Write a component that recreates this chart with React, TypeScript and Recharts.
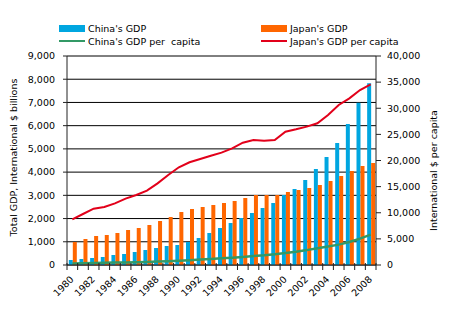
import React from 'react';
import { ComposedChart, Bar, Line, XAxis, YAxis, CartesianGrid, Label } from 'recharts';

const years = [
  '1980', '1981', '1982', '1983', '1984', '1985', '1986', '1987', '1988', '1989',
  '1990', '1991', '1992', '1993', '1994', '1995', '1996', '1997', '1998', '1999',
  '2000', '2001', '2002', '2003', '2004', '2005', '2006', '2007', '2008',
];

// billions of international $
const chinaGdp = [
  215, 258, 301, 344, 431, 474, 560, 646, 732, 818,
  861, 990, 1163, 1378, 1593, 1808, 2024, 2239, 2454, 2670,
  3014, 3272, 3660, 4134, 4650, 5253, 6072, 6990, 7823,
];
const japanGdp = [
  990, 1120, 1249, 1292, 1378, 1507, 1593, 1722, 1894, 2067,
  2282, 2411, 2497, 2583, 2670, 2756, 2885, 3014, 3014, 3014,
  3143, 3230, 3316, 3445, 3617, 3832, 4048, 4263, 4392,
];

// international $ per capita
const chinaPerCapita = [
  300, 330, 370, 410, 460, 500, 540, 590, 650, 720,
  830, 920, 1040, 1170, 1290, 1400, 1550, 1700, 1850, 2050,
  2300, 2550, 2850, 3200, 3550, 3900, 4400, 5050, 5800,
];
const japanPerCapita = [
  8746, 9761, 10776, 11101, 11800, 12700, 13400, 14230, 15630, 17230,
  18700, 19660, 20290, 20920, 21500, 22330, 23410, 23920, 23800, 23920,
  25520, 25970, 26480, 27120, 28710, 30620, 31900, 33490, 34580,
];

const gdpTicks = [0, 1000, 2000, 3000, 4000, 5000, 6000, 7000, 8000, 9000];
const perCapitaTicks = [0, 5000, 10000, 15000, 20000, 25000, 30000, 35000, 40000];

const data = years.map((year, i) => ({
  year,
  chinaGdp: chinaGdp[i],
  japanGdp: japanGdp[i],
  chinaPerCapita: chinaPerCapita[i],
  japanPerCapita: japanPerCapita[i],
}));

const W = 451;
const H = 323;
const LEFT = 67;
const RIGHT = 75;
const FONT = '"DejaVu Sans", Verdana, sans-serif';

const BLUE = '#00a6e0';
const ORANGE = '#ff6600';
const GREEN = '#339966';
const RED = '#e2001a';
const AXIS = '#222';

const legendItems = [
  { label: "China's GDP", color: BLUE, kind: 'bar', left: 59, top: 22 },
  { label: "Japan's GDP", color: ORANGE, kind: 'bar', left: 261, top: 22 },
  { label: "China's GDP per  capita", color: GREEN, kind: 'line', left: 59, top: 35 },
  { label: "Japan's GDP per capita", color: RED, kind: 'line', left: 261, top: 35 },
];

const fmt = (v: number) => v.toLocaleString('en-US');

const band = (W - LEFT - RIGHT) / years.length;

const YearTick = (props: any) => {
  const { x, y, payload, index } = props;
  const bx = x - band / 2;
  const ty = y + 15;
  return (
    <g>
      <line x1={bx} y1={y - 2} x2={bx} y2={y + 5} stroke={AXIS} />
      {index === years.length - 1 && (
        <line x1={x + band / 2} y1={y - 2} x2={x + band / 2} y2={y + 5} stroke={AXIS} />
      )}
      {index % 2 === 0 && (
        <text
          x={x + 2}
          y={ty}
          textAnchor="end"
          fontSize={9.5}
          fill="#000"
          fontFamily={FONT}
          transform={`rotate(-45, ${x + 2}, ${ty})`}
        >
          {payload.value}
        </text>
      )}
    </g>
  );
};

const App = () => {
  return (
    <div style={{ position: 'absolute', left: 0, top: 0, width: W, height: H, fontFamily: FONT, background: '#fff' }}>
      {legendItems.map((item) => (
        <div
          key={item.label}
          style={{ position: 'absolute', left: item.left, top: item.top, height: 12, display: 'flex', alignItems: 'center', fontSize: 9.5, color: '#000', whiteSpace: 'pre' }}
        >
          <span
            style={{
              display: 'inline-block',
              width: 26,
              height: item.kind === 'bar' ? 7 : 2,
              background: item.color,
              marginRight: 3,
            }}
          />
          {item.label}
        </div>
      ))}

      <ComposedChart
        width={W}
        height={H}
        data={data}
        margin={{ top: 56, right: 0, bottom: 0, left: 0 }}
        barCategoryGap="17%"
        barGap={0}
      >
        <CartesianGrid yAxisId="left" vertical={false} stroke="#000" strokeWidth={1} />
        <XAxis
          dataKey="year"
          height={58}
          interval={0}
          tickSize={0}
          tickMargin={0}
          tickLine={false}
          stroke={AXIS}
          tick={<YearTick />}
        />
        <YAxis
          yAxisId="left"
          width={LEFT}
          domain={[0, 9000]}
          ticks={gdpTicks}
          tickFormatter={fmt}
          tickSize={4}
          tickMargin={8}
          stroke={AXIS}
          tick={{ fontSize: 9.5, fill: '#000', fontFamily: FONT }}
        >
          <Label
            content={({ viewBox }: any) => {
              const cx = 13;
              const cy = viewBox.y + viewBox.height / 2 - 3;
              return (
                <text x={cx} y={cy} textAnchor="middle" dominantBaseline="central" fontSize={9.5} fontFamily={FONT} fill="#000" transform={`rotate(-90, ${cx}, ${cy})`}>
                  Total GDP, International $ billions
                </text>
              );
            }}
          />
        </YAxis>
        <YAxis
          yAxisId="right"
          orientation="right"
          width={RIGHT}
          domain={[0, 40000]}
          ticks={perCapitaTicks}
          tickFormatter={fmt}
          tickSize={5}
          tickMargin={6}
          stroke={AXIS}
          tick={{ fontSize: 9.5, fill: '#000', fontFamily: FONT, textAnchor: 'start' }}
        >
          <Label
            content={({ viewBox }: any) => {
              const cx = viewBox.x + 57;
              const cy = viewBox.y + viewBox.height / 2 + 10;
              return (
                <text x={cx} y={cy} textAnchor="middle" dominantBaseline="central" fontSize={9.5} fontFamily={FONT} fill="#000" transform={`rotate(-90, ${cx}, ${cy})`}>
                  International $ per capita
                </text>
              );
            }}
          />
        </YAxis>
        <Bar yAxisId="left" dataKey="chinaGdp" fill={BLUE} isAnimationActive={false} />
        <Bar yAxisId="left" dataKey="japanGdp" fill={ORANGE} isAnimationActive={false} />
        <Line yAxisId="right" type="linear" dataKey="chinaPerCapita" stroke={GREEN} strokeWidth={2.5} dot={false} isAnimationActive={false} />
        <Line yAxisId="right" type="linear" dataKey="japanPerCapita" stroke={RED} strokeWidth={2} dot={false} isAnimationActive={false} />
      </ComposedChart>
    </div>
  );
};

export default App;
